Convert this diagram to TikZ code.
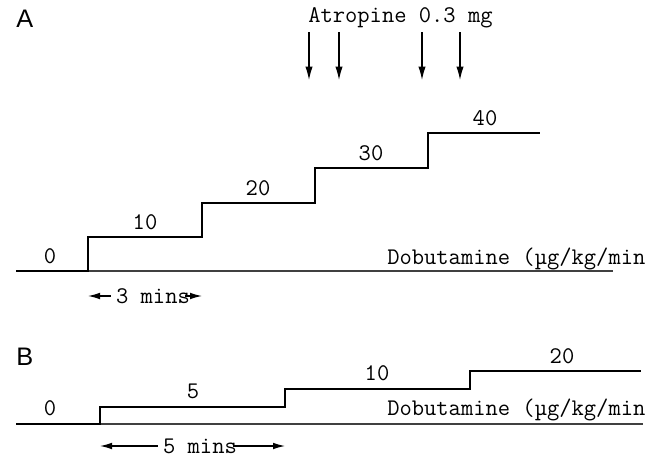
\documentclass[tikz,border=0pt]{standalone}
\usepackage{fontspec}
\setsansfont{Liberation Sans}
\usetikzlibrary{arrows.meta}

\tikzset{
  txt/.style={font=\ttfamily\fontsize{17.9}{19}\selectfont, inner sep=0pt},
  dose/.style={txt, anchor=base},
  panel/.style={font=\sffamily\fontsize{19}{21}\selectfont, anchor=base west, inner sep=0pt},
  infusion/.style={line width=1.9pt, line join=miter},
  baseline/.style={line width=1pt, black!75},
  span/.style={-{Latex[length=9pt,width=5pt]}, line width=0.9pt},
  drop/.style={-{Latex[length=10pt,width=5.5pt]}, line width=0.9pt},
}

\begin{document}
\begin{tikzpicture}[x=0.75pt, y=-0.75pt]
  \useasboundingbox (0,0) rectangle (660,457);

  % Painel A
  \node[panel] (pa) at (16,27) {A};
  \draw[baseline] (16,271) -- (613,271);
  \draw[infusion] (16,271) -- (88,271) -- ++(0,-34) -- ++(114,0) -- ++(0,-34)
    -- ++(113,0) -- ++(0,-35) -- ++(113,0) -- ++(0,-35) -- ++(112,0);
  \node[dose] (a0) at (50,263) {0};
  \node[dose] (a10) at (145,229) {10};
  \node[dose] (a20) at (258,195) {20};
  \node[dose] (a30) at (371,160) {30};
  \node[dose] (a40) at (485,125) {40};
  \node[txt, anchor=base west] (dobA) at (387,264) {Dobutamine (µg/kg/min};

  % Atropina
  \node[txt, anchor=base west] (atr) at (308,22) {Atropine 0.3 mg};
  \foreach \x [count=\i] in {309,339,422,460} {
    \coordinate (s\i) at (\x,32);
    \coordinate (e\i) at (\x,80);
    \draw[drop] (s\i) -- (e\i);
  }

  % Intervalo
  \node[txt] (t3) at (153,296) {3 mins};
  \coordinate (t3l) at (88,296);
  \coordinate (t3r) at (202,296);
  \draw[span] ([xshift=-4pt]t3.west) -- (t3l);
  \draw[span] ([xshift=-4pt]t3.east) -- (t3r);

  % Painel B
  \node[panel] (pb) at (16,365) {B};
  \draw[baseline] (16,424) -- (643,424);
  \draw[infusion] (16,424) -- (100,424) -- ++(0,-17) -- ++(185,0) -- ++(0,-18)
    -- ++(185,0) -- ++(0,-18) -- ++(171,0);
  \node[dose] (b0) at (50,415) {0};
  \node[dose] (b5) at (193,398) {5};
  \node[dose] (b10) at (377,380) {10};
  \node[dose] (b20) at (562,363) {20};
  \node[txt, anchor=base west] (dobB) at (387,415) {Dobutamine (µg/kg/min};

  % Intervalo
  \node[txt] (t5) at (200,446) {5 mins};
  \coordinate (t5l) at (100,446);
  \coordinate (t5r) at (285,446);
  \draw[span] ([xshift=-4pt]t5.west) -- (t5l);
  \draw[span] ([xshift=-3pt]t5.east) -- (t5r);
\end{tikzpicture}
\end{document}
